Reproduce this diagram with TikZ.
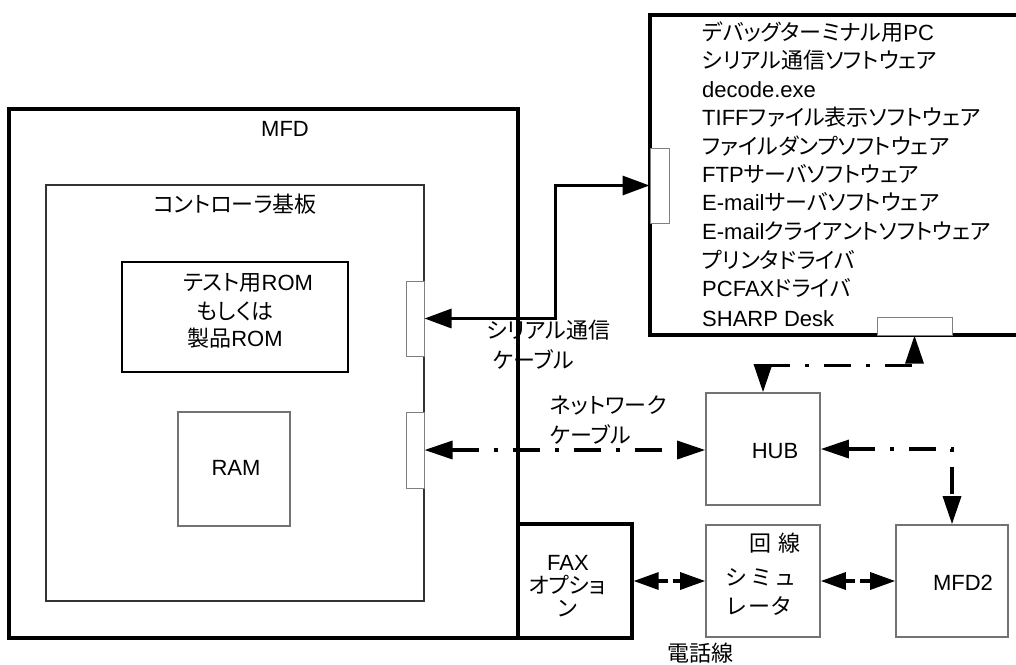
\documentclass[tikz,border=0pt]{standalone}
\usepackage{fontspec}
\setmainfont{Liberation Sans}
\newfontfamily\jpfont[RawFeature=+palt]{Noto Sans CJK JP}
\newcommand\jtext[1]{{\jpfont #1}}
\usetikzlibrary{arrows.meta,fit}
\begin{document}
\begin{tikzpicture}[x=1pt,y=-1pt,
  font=\fontsize{22}{26}\selectfont,
  thickbox/.style={draw=black,line width=3.2pt,inner sep=0pt},
  midbox/.style={draw=black!80,line width=2pt,inner sep=0pt},
  greybox/.style={draw=black!55,line width=1.6pt,inner sep=0pt},
  portbox/.style={draw=black!50,line width=1pt,inner sep=0pt,fill=white},
  lbl/.style={inner sep=0pt,anchor=base},
  lblw/.style={inner sep=0pt,anchor=base west},
  serialline/.style={line width=3.2pt,{Triangle[length=27pt,width=19pt]}-{Triangle[length=27pt,width=19pt]}},
  netline/.style={line width=3.2pt,dash pattern=on 27pt off 15pt on 4pt off 15pt,{Triangle[length=28pt,width=18pt]}-{Triangle[length=28pt,width=18pt]}},
  telline/.style={line width=3.2pt,dash pattern=on 10pt off 5pt,{Triangle[length=25pt,width=17pt]}-{Triangle[length=25pt,width=17pt]}}
]
\useasboundingbox (0,0) rectangle (1016,664);
\clip (0,0) rectangle (1016,664);

% boxes
\node[thickbox,fit={(9,109) (518,638)}] (mfd) {};
\node[midbox,fit={(46,185) (424,601)}] (ctrl) {};
\node[midbox,draw=black,fit={(122,262) (348,372)}] (rom) {};
\node[greybox,fit={(178,412) (290,526)}] (ram) {};
\node[portbox,fit={(406,281) (424,356)}] (c1) {};
\node[portbox,fit={(406,412) (424,488)}] (c2) {};
\node[thickbox,fit={(650,15) (1040,335)}] (pc) {};
\node[portbox,fit={(650,148) (669,223)}] (pcc1) {};
\node[portbox,fit={(877,317) (952,335)}] (pcc2) {};
\node[greybox,fit={(706,393) (820,505)}] (hub) {};
\node[greybox,fit={(706,525) (820,637)}] (sim) {};
\node[greybox,fit={(896,525) (1008,637)}] (mfd2) {};
\node[thickbox,fit={(518,524) (632,638)}] (fax) {};

% labels in MFD
\node[lbl] (tmfd) at (285,136) {MFD};
\node[lbl] (tctrl) at (235,212) {\jtext{コントローラ基板}};
\node[lbl] (trom1) at (248,290) {\jtext{テスト用}ROM};
\node[lbl] (trom2) at (235,319) {\jtext{もしくは}};
\node[lbl] (trom3) at (235,346) {\jtext{製品}ROM};
\node[lbl] (tram) at (236,475) {RAM};

% PC list
\node[lblw] (p1) at (702,40) {\jtext{デバッグターミナル用}PC};
\node[lblw] (p2) at (702,68) {\jtext{シリアル通信ソフトウェア}};
\node[lblw] (p3) at (702,97) {decode.exe};
\node[lblw] (p4) at (702,125) {TIFF\jtext{ファイル表示ソフトウェア}};
\node[lblw] (p5) at (702,154) {\jtext{ファイルダンプソフトウェア}};
\node[lblw] (p6) at (702,182) {FTP\jtext{サーバソフトウェア}};
\node[lblw] (p7) at (702,210) {E-mail\jtext{サーバソフトウェア}};
\node[lblw] (p8) at (702,239) {E-mail\jtext{クライアントソフトウェア}};
\node[lblw] (p9) at (702,268) {\jtext{プリンタドライバ}};
\node[lblw] (p10) at (702,296) {PCFAX\jtext{ドライバ}};
\node[lblw] (p11) at (702,326) {SHARP Desk};

% cable labels
\node[lblw] (ts1) at (487,338) {\jtext{シリアル通信}};
\node[lblw] (ts2) at (493,368) {\jtext{ケーブル}};
\node[lblw] (tn1) at (550,413) {\jtext{ネットワーク}};
\node[lblw] (tn2) at (550,443) {\jtext{ケーブル}};
\node[lbl] (ttel) at (700,661) {\jtext{電話線}};

% other boxes' labels
\node[lbl] (thub) at (775,458) {HUB};
\node[lbl] (tfax1) at (568,570) {FAX};
\node[lbl] (tfax2) at (567,593) {\jtext{オプショ}};
\node[lbl] (tfax3) at (567,616) {\jtext{ン}};
\node[lbl] (tsim1) at (775,551) {\jtext{回\kern7pt 線}};
\node[lbl] (tsim2) at (760,585) {\jtext{シ\kern6pt ミ\kern6pt ュ}};
\node[lbl] (tsim3) at (759,614) {\jtext{レ\kern2pt ー\kern2pt タ}};
\node[lbl] (tmfd2) at (963,590) {MFD2};

% connectors
\draw[serialline] (c1.east) -- ++(131,0) |- (pcc1.west);
\draw[netline] (c2.east) -- (c2.east -| hub.west);
\draw[netline] (hub.north) -- ++(0,-27) -| (pcc2.south);
\draw[netline] (hub.east) -| (mfd2.north);
\draw[telline] (fax.east) -- (fax.east -| sim.west);
\draw[telline] (sim.east) -- (sim.east -| mfd2.west);
\end{tikzpicture}
\end{document}
